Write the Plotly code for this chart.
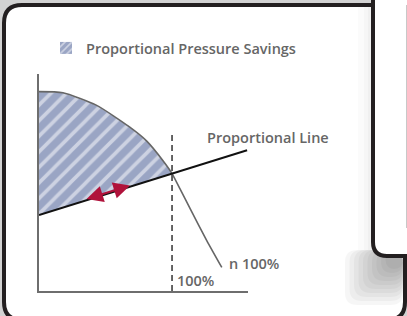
import plotly.graph_objects as go

W, H = 407, 316

# ---- data (percent of design flow / head) ----
pump_flow = [0, 18, 43, 68, 81, 93.5, 100, 106, 113.5, 126, 137.4]
pump_head = [169, 168, 157.5, 139, 127, 110, 99.5, 86.5, 70, 43, 20]
prop_flow = [0, 100, 156.4]
prop_head = [64.4, 99.5, 119.3]
design_flow = [100, 100]
design_head = [0, 133]
arrow_flow = [34.6, 68.4]
arrow_head = [77.5, 89.4]

legend_label = "Proportional Pressure Savings"
line_label = "Proportional Line"
speed_label = "n 100%"
flow_label = "100%"

TXT = "#666666"
FONT = "Open Sans"
FILL = "#9aa5c4"

# savings region: pump curve up to the design point, then back along the proportional line
n_sav = sum(1 for f in pump_flow if f <= design_flow[0])
sav_x = pump_flow[:n_sav] + [prop_flow[0]]
sav_y = pump_head[:n_sav] + [prop_head[0]]

fig = go.Figure()
fig.add_trace(go.Scatter(
    x=sav_x, y=sav_y, fill="toself", mode="none", showlegend=False,
    fillcolor=FILL,
    fillpattern=dict(shape="/", bgcolor=FILL, fgcolor="white", size=11, solidity=0.33),
    hoverinfo="skip"))
fig.add_trace(go.Scatter(x=pump_flow, y=pump_head, mode="lines", showlegend=False,
                         line=dict(color="#666666", width=1.6, shape="spline", smoothing=0.6)))
fig.add_trace(go.Scatter(x=design_flow, y=design_head, mode="lines", showlegend=False,
                         line=dict(color="#555555", width=1.8, dash="6px,4px")))
fig.add_trace(go.Scatter(x=prop_flow, y=prop_head, mode="lines", showlegend=False,
                         line=dict(color="#111111", width=2)))
# legend swatch
fig.add_trace(go.Bar(x=[None], y=[None], name=legend_label, showlegend=True,
                     marker=dict(color=FILL, line=dict(width=0),
                                 pattern=dict(shape="/", bgcolor=FILL, fgcolor="white",
                                              size=6, solidity=0.33))))

def px(x):
    return x / W

def py(y):
    return 1 - y / H

def rrect(x0, y0, x1, y1, r):
    return (f"M{px(x0+r)},{py(y0)} L{px(x1-r)},{py(y0)} Q{px(x1)},{py(y0)} {px(x1)},{py(y0+r)} "
            f"L{px(x1)},{py(y1-r)} Q{px(x1)},{py(y1)} {px(x1-r)},{py(y1)} "
            f"L{px(x0+r)},{py(y1)} Q{px(x0)},{py(y1)} {px(x0)},{py(y1-r)} "
            f"L{px(x0)},{py(y0+r)} Q{px(x0)},{py(y0)} {px(x0+r)},{py(y0)} Z")

shapes = []
# main panel
shapes.append(dict(type="path", xref="paper", yref="paper", path=rrect(4, 5, 405, 320, 18),
                   fillcolor="white", line=dict(color="#231f20", width=4), layer="below"))
# soft shadow under the right panel
for k in range(10):
    x0 = 345 + 4.5 * k
    y1 = 305 - 4 * k
    shapes.append(dict(type="path", xref="paper", yref="paper",
                       path=rrect(x0, 250, 403, y1, min(12, (y1 - 250) / 2)),
                       fillcolor="black", opacity=0.035, line=dict(width=0), layer="below"))
for (x0, op) in [(358, 0.015), (364, 0.02), (368, 0.025)]:
    shapes.append(dict(type="rect", xref="paper", yref="paper",
                       x0=px(x0), x1=px(372), y0=py(250), y1=py(7),
                       fillcolor="black", opacity=op, line=dict(width=0), layer="below"))
# right panel
shapes.append(dict(type="path", xref="paper", yref="paper", path=rrect(373, -30, 440, 256, 14),
                   fillcolor="white", line=dict(color="#231f20", width=4), layer="below"))
shapes.append(dict(type="line", xref="paper", yref="paper",
                   x0=px(406.5), x1=px(406.5), y0=py(5), y1=py(228),
                   line=dict(color="#c8c8c8", width=1), layer="below"))

annotations = [
    dict(x=arrow_flow[1], y=arrow_head[1], ax=arrow_flow[0], ay=arrow_head[0],
         xref="x", yref="y", axref="x", ayref="y", text="", showarrow=True,
         arrowhead=2, startarrowhead=2, arrowside="end+start", arrowsize=1.5,
         startarrowsize=1.5, arrowwidth=2.2, arrowcolor="#b0123b"),
    dict(x=124.8, y=130.5, xref="x", yref="y", text=line_label, showarrow=False,
         xanchor="left", yanchor="middle",
         font=dict(family=FONT, size=14.5, color=TXT, weight=600)),
    dict(x=141.4, y=22.9, xref="x", yref="y", text=speed_label, showarrow=False,
         xanchor="left", yanchor="middle",
         font=dict(family=FONT, size=14.5, color=TXT, weight=600)),
    dict(x=102.5, y=8.5, xref="x", yref="y", text=flow_label, showarrow=False,
         xanchor="left", yanchor="middle",
         font=dict(family=FONT, size=14.5, color=TXT, weight=600)),
]

fig.update_layout(
    width=W, height=H, margin=dict(l=0, r=0, t=0, b=0),
    paper_bgcolor="#d2d2d2", plot_bgcolor="rgba(0,0,0,0)",
    shapes=shapes, annotations=annotations,
    showlegend=True,
    legend=dict(x=px(46), y=py(48), xanchor="left", yanchor="middle",
                bgcolor="rgba(0,0,0,0)", borderwidth=0,
                font=dict(family=FONT, size=14.5, color=TXT, weight=600)),
    xaxis=dict(domain=[px(39), px(248)], range=[0, 157.1], showline=True,
               linecolor="#6e6e6e", linewidth=2, showgrid=False, zeroline=False,
               showticklabels=False, ticks="", fixedrange=True),
    yaxis=dict(domain=[py(291), py(74)], range=[0, 183.9], showline=True,
               linecolor="#6e6e6e", linewidth=2, showgrid=False, zeroline=False,
               showticklabels=False, ticks="", fixedrange=True),
)

fig.write_html("out.html", config={"displayModeBar": False},
               post_script="document.body.style.margin='0';document.body.style.overflow='hidden';")
